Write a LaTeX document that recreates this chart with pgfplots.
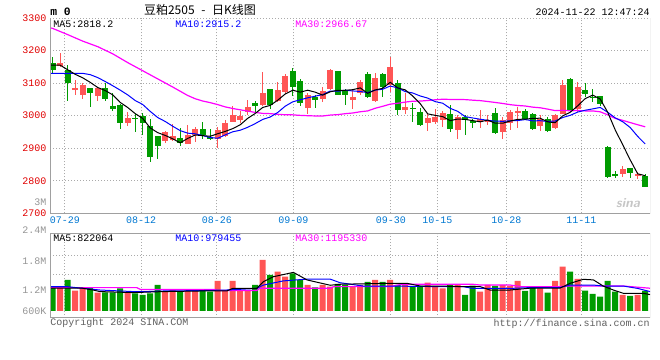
\documentclass[border=0pt]{standalone}
\usepackage{pgfplots}
\usepackage{pgfplotstable}
\pgfplotsset{compat=1.18}
\usepackage{fontspec}
\newfontfamily\mono{Liberation Mono}
\newfontfamily\cjk{Noto Sans CJK SC}
\newcommand\tf{\mono\fontsize{7.5pt}{9pt}\selectfont}
\definecolor{kred}{RGB}{255,85,85}
\definecolor{kgreen}{RGB}{0,155,0}
\definecolor{pricered}{RGB}{225,0,0}
\definecolor{dateblue}{RGB}{0,120,210}
\definecolor{framec}{RGB}{160,160,160}
\definecolor{gridc}{RGB}{170,170,170}
\definecolor{mablue}{RGB}{0,0,255}
\definecolor{mamag}{RGB}{255,0,255}
\definecolor{lblgray}{RGB}{150,150,150}
\definecolor{txtgray}{RGB}{95,95,95}

% up (red) candles: k open high low close
\pgfplotstableread{
k o h l c
1 3153.2 3193.1 3150.1 3162.4
3 3079.4 3109.1 3063.0 3085.6
4 3064.1 3100.9 3050.8 3094.8
6 3061.0 3088.6 3045.6 3083.5
10 2978.0 3010.8 2968.8 2992.4
15 2920.7 2953.5 2916.6 2949.4
16 2924.8 2974.0 2920.7 2937.1
18 2913.5 2970.9 2912.5 2941.2
19 2940.2 2963.7 2919.7 2958.6
22 2926.8 2963.7 2899.2 2955.5
23 2938.1 2986.2 2935.0 2977.0
24 2981.1 3030.3 2979.1 3001.6
25 2986.2 3014.9 2978.0 2998.5
26 3011.8 3047.7 3001.6 3026.2
28 3032.3 3134.7 3030.3 3069.2
30 3044.6 3103.0 3041.5 3078.4
31 3071.2 3127.6 3066.1 3121.4
34 3024.1 3068.2 3004.7 3063.0
36 3051.8 3088.6 3042.6 3075.3
37 3080.4 3141.9 3078.4 3139.8
40 3047.7 3078.4 3020.0 3057.9
41 3068.2 3109.1 3063.0 3103.0
43 3044.6 3131.6 3042.6 3115.3
45 3093.8 3178.8 3073.3 3149.1
47 3017.0 3068.2 3004.7 3026.2
50 2978.0 3003.6 2952.4 2992.4
51 2980.1 3019.0 2972.9 2994.4
52 2986.2 3013.9 2963.7 3006.7
54 2955.5 3001.6 2927.9 2996.5
57 2981.1 3017.0 2962.7 2988.3
58 2982.1 3001.6 2970.9 2986.2
60 2950.4 2996.5 2927.9 2986.2
61 2976.0 3017.0 2955.5 3009.8
62 3010.8 3027.2 2962.7 3013.9
65 2967.8 3001.6 2953.5 2989.3
67 2962.7 3004.7 2957.6 3001.6
68 3005.7 3109.1 3003.6 3093.8
70 3019.0 3102.0 3011.8 3087.6
76 2819.3 2844.9 2810.1 2836.7
78 2816.3 2827.5 2804.0 2820.4
}\upk

% down (green) candles
\pgfplotstableread{
k o h l c
0 3162.4 3180.8 3129.6 3139.8
2 3139.8 3155.2 3044.6 3098.9
5 3084.5 3086.5 3027.2 3070.2
7 3084.5 3098.9 3044.6 3051.8
8 3029.2 3068.2 3014.9 3020.0
9 3033.3 3034.3 2959.6 2978.0
11 2993.4 3004.7 2950.4 2989.3
12 2998.5 3006.7 2941.2 2978.0
13 2967.8 2989.3 2858.2 2873.6
14 2937.1 2938.1 2865.4 2906.4
17 2930.9 2960.6 2906.4 2916.6
20 2958.6 2981.1 2927.9 2940.2
21 2935.0 2958.6 2924.8 2926.8
27 3038.5 3044.6 3011.8 3030.3
29 3081.5 3082.5 3020.0 3033.3
32 3136.8 3145.0 3061.0 3088.6
33 3106.0 3111.2 3030.3 3039.5
35 3055.9 3063.0 3022.1 3048.7
38 3136.8 3137.8 3062.0 3063.0
39 3075.3 3081.5 3032.3 3063.0
42 3127.6 3133.7 3052.8 3055.9
44 3128.6 3129.6 3057.9 3088.6
46 3098.9 3109.1 3001.6 3017.0
48 3024.1 3039.5 2981.1 3021.1
49 3011.8 3024.1 2967.8 2970.9
53 3004.7 3032.3 2950.4 2958.6
55 2996.5 3001.6 2940.2 2986.2
56 2984.2 2989.3 2960.6 2976.0
59 3008.8 3022.1 2943.2 2947.3
63 3013.9 3019.0 2986.2 2989.3
64 3004.7 3006.7 2955.5 2958.6
66 2989.3 2996.5 2950.4 2953.5
69 3112.2 3114.2 3010.8 3013.9
71 3078.4 3099.9 3055.9 3065.1
72 3058.0 3081.5 3042.6 3054.9
73 3060.0 3061.0 3029.2 3034.4
74 2904.3 2906.4 2807.0 2810.1
75 2820.4 2830.6 2807.0 2817.3
77 2838.8 2839.8 2807.0 2822.4
79 2814.2 2819.3 2781.4 2781.4
}\downk

\pgfplotstableread{
k m
-0.36 3155
0 3155
1 3155
2 3141
3 3127
4 3116.3
5 3102.4
6 3086.6
7 3077.2
8 3064.1
9 3040.7
10 3025.1
11 3006.3
12 2991.5
13 2962.3
14 2947.9
15 2939.3
16 2928.9
17 2916.6
18 2930.1
19 2940.6
20 2938.7
21 2936.7
22 2944.5
23 2951.6
24 2960.2
25 2971.9
26 2991.8
27 3006.7
28 3025.2
29 3031.5
30 3047.5
31 3066.5
32 3078.2
33 3072.2
34 3078.2
35 3072.2
36 3063.0
37 3073.3
38 3078.0
39 3078.0
40 3079.8
41 3085.3
42 3068.6
43 3079.0
44 3084.1
45 3102.4
46 3085.2
47 3079.2
48 3060.4
49 3036.9
50 3005.5
51 3001.0
52 2997.1
53 2984.6
54 2989.7
55 2988.5
56 2984.8
57 2981.1
58 2986.6
59 2976.8
60 2976.8
61 2983.6
62 2988.7
63 2989.3
64 2991.6
65 2992.2
66 2980.9
67 2978.5
68 2999.4
69 3010.4
70 3030.1
71 3052.4
72 3063.1
73 3051.2
74 3010.4
75 2956.4
76 2910.7
77 2864.2
78 2821.4
79 2815.6
}\mafive

\pgfplotstableread{
k m
-0.36 3130
0 3130
4 3130
5 3126
6 3117
7 3105
8 3092
9 3078.5
10 3063.8
11 3046.5
12 3034.4
13 3013.2
14 2994.3
15 2982.2
16 2967.6
17 2954.1
18 2946.2
19 2944.3
20 2939.0
21 2932.8
22 2930.5
23 2940.9
24 2950.4
25 2955.3
26 2964.2
27 2975.6
28 2988.4
29 2995.9
30 3009.7
31 3029.1
32 3042.5
33 3048.7
34 3054.8
35 3059.9
36 3064.8
37 3075.7
38 3075.1
39 3078.1
40 3076.0
41 3074.2
42 3070.9
43 3078.5
44 3081.1
45 3091.1
46 3085.3
47 3073.9
48 3069.7
49 3060.5
50 3054.0
51 3043.1
52 3038.2
53 3022.5
54 3013.3
55 2997.0
56 2992.9
57 2989.1
58 2985.6
59 2983.3
60 2982.6
61 2984.2
62 2984.9
63 2988.0
64 2984.2
65 2984.5
66 2982.2
67 2983.6
68 2994.3
69 3001.0
70 3011.1
71 3016.7
72 3020.8
73 3025.3
74 3010.4
75 2993.2
76 2981.5
77 2963.6
78 2936.3
79 2913.0
}\maten

\pgfplotstableread{
k m
-0.36 3270
0 3268
2 3249
4 3229
6 3212
8 3190
10 3163
12 3138
14 3113
16 3088
18 3062
19 3052
20 3045
21 3040
22 3034
23 3027
24 3022
25 3018
26 3014
27 3010
28 3007
29 3006.2
30 3004.2
31 3002.8
32 3002.5
33 3000.9
34 2999.9
35 2999.1
36 2998.9
37 3001.8
38 3003.2
39 3006.1
40 3008.2
41 3012.0
42 3014.6
43 3022.7
44 3028.8
45 3035.4
46 3038.1
47 3041.7
48 3044.4
49 3044.8
50 3046.6
51 3048.8
52 3050.5
53 3049.9
54 3049.7
55 3049.3
56 3047.6
57 3046.2
58 3043.5
59 3040.6
60 3037.5
61 3033.8
62 3031.3
63 3029.7
64 3026.2
65 3024.2
66 3020.1
67 3015.5
68 3016.6
69 3014.9
70 3015.9
71 3014.6
72 3014.6
73 3011.9
74 3002.6
75 2991.6
76 2985.6
77 2978.8
78 2972.1
79 2965.8
}\mathirty

% volumes (millions, bar height above base)
\pgfplotstableread{
k v
1 1.195
3 1.027
4 1.178
6 0.926
10 0.943
15 0.976
16 1.094
18 1.010
19 1.027
22 1.515
23 1.010
24 1.515
25 1.010
26 1.010
28 2.576
30 1.987
31 1.734
34 1.313
36 1.313
37 1.229
40 1.229
41 1.313
43 1.566
45 1.566
47 1.397
50 1.431
51 1.263
52 1.145
54 1.313
57 0.976
58 1.313
60 1.313
61 1.263
62 1.515
65 1.145
67 1.515
68 2.239
70 1.616
76 0.808
78 0.808
}\volup

\pgfplotstableread{
k v
0 1.195
2 1.566
5 1.178
7 0.943
8 0.943
9 1.145
11 0.892
12 0.808
13 0.892
14 1.313
17 0.976
20 1.027
21 0.976
27 1.313
29 1.818
32 1.902
33 1.566
35 1.195
38 1.364
39 1.313
42 1.465
44 1.465
46 1.313
48 1.229
49 1.263
53 1.313
55 0.808
56 1.279
59 1.263
63 1.010
64 1.229
66 0.926
69 1.987
71 1.027
72 0.859
73 0.724
74 1.515
75 0.976
77 0.758
79 1.010
}\voldown

\pgfplotstableread{
k m
-0.36 1.15
4 1.15
5.5 1.05
6.3 0.98
10.75 0.93
14.75 0.98
19.6 1.01
23.2 1.01
24 1.14
27.2 1.14
28.1 1.48
29.4 1.73
32.1 1.95
33.9 1.57
37 1.30
38.3 1.35
45 1.40
47.2 1.40
49 1.26
51.6 1.26
54.75 1.23
57 1.23
58.3 1.06
61 1.06
63.6 1.15
67.6 1.15
69 1.40
70.75 1.60
72.1 1.57
73.4 1.26
74.75 1.06
76.1 0.89
78.75 0.89
79.64 0.83
}\vmafive

\pgfplotstableread{
k m
-0.36 1.23
1.9 1.23
4.1 1.14
6.3 1.06
10.75 0.98
12.5 0.98
14.75 1.01
19.6 1.03
23.2 1.06
27.2 1.14
28.1 1.31
30.75 1.52
33.9 1.61
37 1.61
38.3 1.43
41.4 1.26
45 1.26
51.6 1.23
54.75 1.23
56 1.14
61 1.14
63.6 1.18
67.6 1.18
69 1.31
72.1 1.31
73.4 1.26
76.1 1.26
78 1.14
79.64 0.98
}\vmaten

\pgfplotstableread{
k m
-0.36 1.18
11.2 1.18
11.7 1.09
21.5 1.09
22 1.03
27.2 1.03
27.6 1.15
37 1.15
37.5 1.23
45 1.23
46.5 1.35
56 1.35
57 1.31
61 1.31
62.5 1.23
67.6 1.23
68.5 1.26
76.1 1.26
79.64 1.15
}\vmathirty

\pgfplotsset{
  kbase/.style={
    scale only axis, width=450pt,
    xmin=-0.36, xmax=79.64,
    axis line style={draw=none},
    major tick length=0pt,
    xtick={1.63,11.8,21.9,32.1,45.1,51.3,60.5,70.5},
    xmajorgrids, ymajorgrids,
    grid style={gridc, line width=0.75pt, dash pattern=on 0.75pt off 1.5pt},
  },
  wick/.style={draw=none, mark=none,
    error bars/.cd, y dir=both, y explicit, error mark=none,
    error bar style={draw=#1, line width=0.75pt}},
  body/.style={draw=none, mark=none,
    error bars/.cd, y dir=both, y explicit, error mark=none,
    error bar style={draw=#1, line width=4.5pt}},
}

\begin{document}
\begin{tikzpicture}
\useasboundingbox (0,0) rectangle (495pt,270pt);
\fill[white] (0,0) rectangle (495pt,270pt);

% ---------- price panel ----------
\begin{axis}[kbase,
  at={(37.5pt,110pt)}, anchor=south west, height=146.5pt,
  ymin=2700, ymax=3300,
  ytick={2700,2800,2900,3000,3100,3200,3300},
  yticklabels={2700,2800,2900,3000,3100,3200,3300},
  xticklabels={07-29,08-12,08-26,09-09,09-30,10-15,10-28,11-11},
  xticklabel style={font=\tf, text=dateblue, anchor=north, inner sep=0pt, yshift=-2.6pt},
  yticklabel style={font=\tf, text=pricered, anchor=east, inner sep=0pt, xshift=-2.6pt},
]
\addplot[wick=kred] table[x=k, y expr={(\thisrow{h}+\thisrow{l})/2}, y error expr={(\thisrow{h}-\thisrow{l})/2}] {\upk};
\addplot[wick=kgreen] table[x=k, y expr={(\thisrow{h}+\thisrow{l})/2}, y error expr={(\thisrow{h}-\thisrow{l})/2}] {\downk};
\addplot[body=kred] table[x=k, y expr={(\thisrow{o}+\thisrow{c})/2}, y error expr={max(abs(\thisrow{c}-\thisrow{o})/2,1.5)}] {\upk};
\addplot[body=kgreen] table[x=k, y expr={(\thisrow{o}+\thisrow{c})/2}, y error expr={max(abs(\thisrow{c}-\thisrow{o})/2,1.5)}] {\downk};
\addplot[mamag, line width=0.9pt, mark=none] table[x=k, y=m] {\mathirty};
\addplot[mablue, line width=0.75pt, mark=none] table[x=k, y=m] {\maten};
\addplot[black, line width=0.75pt, mark=none] table[x=k, y=m] {\mafive};
\draw[framec, line width=0.75pt] (rel axis cs:0,1) -- (rel axis cs:0,0) -- (rel axis cs:1,0) -- (rel axis cs:1,1);
\end{axis}

% ---------- volume panel ----------
\begin{axis}[kbase,
  at={(37.5pt,31.5pt)}, anchor=south west, height=63pt,
  ymin=-0.354, ymax=3.889,
  ytick={1.818,2.828}, yticklabels={},
  xticklabels={},
]
\addplot[ybar, bar width=4.5pt, bar shift=0pt, fill=kred, draw=none] table[x=k, y=v] {\volup};
\addplot[ybar, bar width=4.5pt, bar shift=0pt, fill=kgreen, draw=none] table[x=k, y=v] {\voldown};
\addplot[mamag, line width=0.9pt, mark=none] table[x=k, y=m] {\vmathirty};
\addplot[mablue, line width=0.75pt, mark=none] table[x=k, y=m] {\vmaten};
\addplot[black, line width=0.75pt, mark=none] table[x=k, y=m] {\vmafive};
\draw[framec, line width=0.75pt] (rel axis cs:0,0) rectangle (rel axis cs:1,1);
\end{axis}

% ---------- texts ----------
\node[anchor=west, inner sep=0pt] at (37.5pt,261.5pt) {\mono\bfseries\fontsize{8.5pt}{10pt}\selectfont m 0};
\node[inner sep=0pt] at (150pt,262.5pt) {\cjk\fontsize{9pt}{11pt}\selectfont 豆粕2505\hspace{5pt}-\hspace{5pt}日K线图};
\node[anchor=east, inner sep=0pt] at (487.5pt,261pt) {\tf 2024-11-22 12:47:24};

\node[anchor=west, inner sep=0pt] at (39.75pt,252pt) {\tf MA5:2818.2};
\node[anchor=west, inner sep=0pt, text=mablue] at (131.25pt,252pt) {\tf MA10:2915.2};
\node[anchor=west, inner sep=0pt, text=mamag] at (221.25pt,252pt) {\tf MA30:2966.67};

\node[anchor=west, inner sep=0pt] at (39.75pt,91.1pt) {\tf MA5:822064};
\node[anchor=west, inner sep=0pt, text=mablue] at (131.25pt,91.1pt) {\tf MA10:979455};
\node[anchor=west, inner sep=0pt, text=mamag] at (221.25pt,91.1pt) {\tf MA30:1195330};

\node[anchor=east, inner sep=0pt, text=lblgray] at (35pt,118.5pt) {\tf 3M};
\node[anchor=east, inner sep=0pt, text=lblgray] at (34.9pt,97.5pt) {\tf 2.4M};
\node[anchor=east, inner sep=0pt, text=lblgray] at (34.9pt,74.25pt) {\tf 1.8M};
\node[anchor=east, inner sep=0pt, text=lblgray] at (34.9pt,52.5pt) {\tf 1.2M};
\node[anchor=east, inner sep=0pt, text=lblgray] at (34.9pt,36.75pt) {\tf 600K};

\node[anchor=west, inner sep=0pt, text=txtgray] at (37.5pt,27.75pt) {\tf Copyright 2024 SINA.COM};
\node[anchor=east, inner sep=0pt, text=txtgray] at (487.5pt,27pt) {\tf http://finance.sina.com.cn};
\node[inner sep=0pt, text=gray!45] at (471pt,118pt) {\fontsize{10pt}{12pt}\selectfont\sffamily\bfseries\itshape sina};
\end{tikzpicture}
\end{document}
